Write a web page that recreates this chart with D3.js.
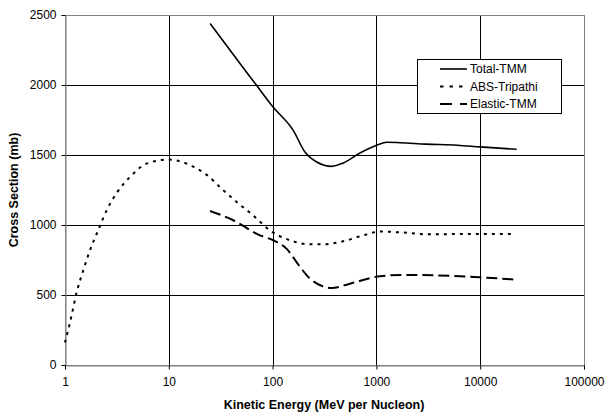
<!DOCTYPE html>
<html lang="en">
<head>
<meta charset="UTF-8">
<title>Cross Section</title>
<script src="https://cdn.jsdelivr.net/npm/d3@7"></script>
<style>
    body { margin: 0; background: #fff; }
    text { font-family: Arial, "Liberation Sans", sans-serif; fill: #000; }
    .tick text { font-size: 12px; }
    .axis-title { font-size: 12.5px; font-weight: bold; }
    .legend text { font-size: 12px; }
</style>
</head>
<body>
<script>
    // energies (MeV per nucleon) and cross sections (mb)
    var totalE = [25, 48.5, 70, 101, 158, 205, 266, 371, 480, 695, 1007, 1257, 1687, 3000, 6000, 10000, 22450];
    var totalV = [2439, 2153, 1998, 1843, 1676, 1521, 1450, 1419, 1443, 1514, 1569, 1591, 1588, 1578, 1570, 1558, 1541];

    var absE = [1, 1.12, 1.31, 1.5, 1.74, 2.1, 2.52, 3.15, 4.23, 6.1, 9.9, 14.9, 23, 33.5, 47, 65, 94, 147, 229, 308, 480, 748, 1084, 1815, 3050, 10000, 20100];
    var absV = [160, 307, 534, 676, 819, 967, 1105, 1229, 1343, 1438, 1467, 1438, 1360, 1248, 1153, 1069, 962, 891, 862, 862, 884, 926, 953, 946, 934, 936, 936];

    var elasE = [25, 41.8, 75.6, 101.6, 136, 184, 229, 371, 557, 1084, 1815, 3530, 10000, 22450];
    var elasV = [1100, 1034, 926, 891, 831, 700, 617, 550, 581, 634, 643, 641, 626, 610];

    var xTicks = [1, 10, 100, 1000, 10000, 100000];
    var yTicks = [0, 500, 1000, 1500, 2000, 2500];

    var series = [
        { name: "Total-TMM", e: totalE, v: totalV, dash: null, width: 1.6 },
        { name: "ABS-Tripathi", e: absE, v: absV, dash: "3,5", width: 2 },
        { name: "Elastic-TMM", e: elasE, v: elasV, dash: "11,5", width: 2 }
    ];

    var width = 605, height = 413;
    var pLeft = 65, pRight = 584, pTop = 15, pBottom = 365;

    var svg = d3.select("body").append("svg").attr("width", width).attr("height", height);

    var x = d3.scaleLog().domain([1, 100000]).range([pLeft, pRight]);
    var y = d3.scaleLinear().domain([0, 2500]).range([pBottom, pTop]);

    // grid
    svg.append("g").selectAll("line")
        .data(yTicks.filter(function(d){ return d > 0 && d < 2500; }))
        .enter().append("line")
            .attr("x1", pLeft).attr("x2", pRight)
            .attr("y1", function(d){ return Math.round(y(d)) + 0.5; })
            .attr("y2", function(d){ return Math.round(y(d)) + 0.5; })
            .attr("stroke", "#000");
    svg.append("g").selectAll("line")
        .data(xTicks.filter(function(d){ return d > 1 && d < 100000; }))
        .enter().append("line")
            .attr("y1", pTop).attr("y2", pBottom)
            .attr("x1", function(d){ return Math.round(x(d)) + 0.5; })
            .attr("x2", function(d){ return Math.round(x(d)) + 0.5; })
            .attr("stroke", "#000");

    // plot border
    svg.append("rect")
        .attr("x", pLeft + 0.5).attr("y", pTop + 0.5)
        .attr("width", pRight - pLeft).attr("height", pBottom - pTop)
        .attr("fill", "none").attr("stroke", "#808080");

    // axes
    var yAxis = d3.axisLeft(y).tickValues(yTicks).tickSize(4).tickPadding(5).tickFormat(d3.format("d"));
    var gy = svg.append("g").attr("transform", "translate(" + (pLeft + 0.5) + ",0)").call(yAxis);
    gy.select(".domain").attr("stroke", "#808080");

    var xAxis = d3.axisBottom(x).tickValues(xTicks).tickSize(4).tickPadding(8).tickFormat(d3.format("d"));
    var gx = svg.append("g").attr("transform", "translate(0," + (pBottom + 0.5) + ")").call(xAxis);
    gx.select(".domain").attr("stroke", "#808080");

    svg.append("text").attr("class", "axis-title")
        .attr("x", 324).attr("y", 409)
        .attr("text-anchor", "middle")
        .text("Kinetic Energy (MeV per Nucleon)");

    svg.append("text").attr("class", "axis-title")
        .attr("transform", "translate(18," + ((pTop + pBottom) / 2) + ") rotate(-90)")
        .attr("text-anchor", "middle")
        .text("Cross Section (mb)");

    // lines
    var line = d3.line().curve(d3.curveMonotoneX)
        .x(function(d){ return x(d[0]); })
        .y(function(d){ return y(d[1]); });

    svg.append("g").selectAll("path")
        .data(series)
        .enter().append("path")
            .attr("d", function(s){ return line(s.e.map(function(e, i){ return [e, s.v[i]]; })); })
            .attr("fill", "none")
            .attr("stroke", "#000")
            .attr("stroke-width", function(s){ return s.width; })
            .attr("stroke-dasharray", function(s){ return s.dash; });

    // legend
    var lg = svg.append("g").attr("class", "legend");
    lg.append("rect")
        .attr("x", 417.5).attr("y", 59.5).attr("width", 144).attr("height", 54)
        .attr("fill", "#fff").attr("stroke", "#000");
    var items = lg.selectAll("g.item").data(series).enter().append("g")
        .attr("transform", function(d, i){ return "translate(0," + (69 + i * 17.5) + ")"; });
    items.append("line")
        .attr("x1", 440).attr("x2", 467).attr("y1", 0).attr("y2", 0)
        .attr("stroke", "#000")
        .attr("stroke-width", function(s){ return s.width; })
        .attr("stroke-dasharray", function(s, i){ return i === 1 ? "3.5,6" : (i === 2 ? "12,8" : null); });
    items.append("text")
        .attr("x", 470).attr("y", 0).attr("dy", "0.35em")
        .text(function(s){ return s.name; });
</script>
</body>
</html>
